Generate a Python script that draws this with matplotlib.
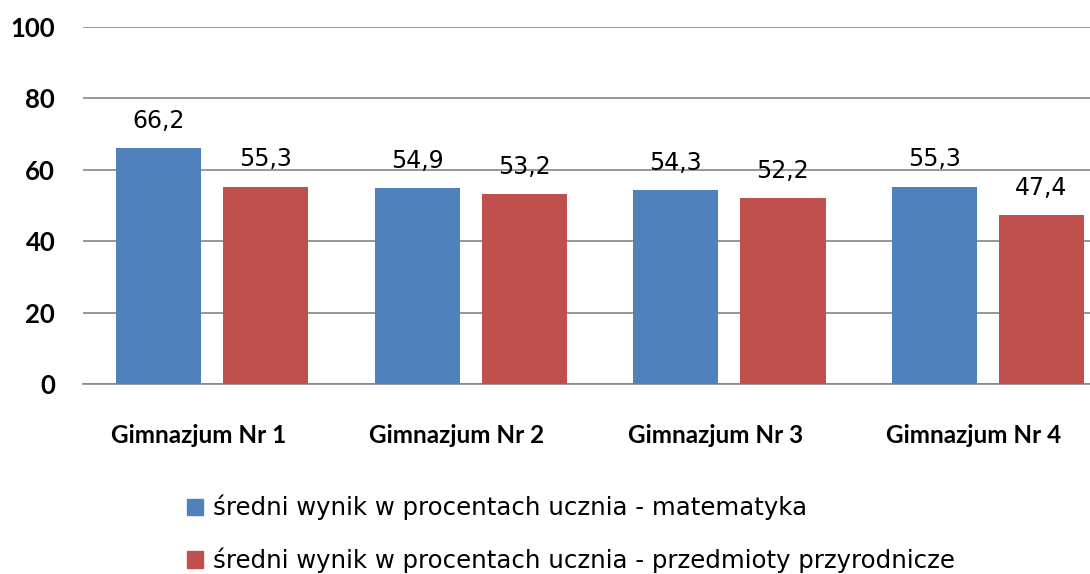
import matplotlib
matplotlib.use('Agg')
import matplotlib.pyplot as plt
import numpy as np
from matplotlib.patches import Patch

plt.rcParams['font.family'] = ['Lato', 'DejaVu Sans']

schools = ['Gimnazjum Nr 1', 'Gimnazjum Nr 2', 'Gimnazjum Nr 3', 'Gimnazjum Nr 4']
math_scores = [66.2, 54.9, 54.3, 55.3]
science_scores = [55.3, 53.2, 52.2, 47.4]
series_names = ['średni wynik w procentach ucznia - matematyka',
                'średni wynik w procentach ucznia - przedmioty przyrodnicze']
blue = '#4f81bd'
red = '#c0504d'

fig = plt.figure(figsize=(10.9, 5.74), dpi=100)
ax = fig.add_axes([83 / 1090, 1 - 384 / 574, 1 - 83 / 1090, (384 - 27) / 574])

x = np.arange(len(schools))
w = 0.33
off = 0.207
ax.bar(x - off, math_scores, w, color=blue, zorder=3)
ax.bar(x + off, science_scores, w, color=red, zorder=3)

for xs, vals in [(x - off, math_scores), (x + off, science_scores)]:
    for xi, v in zip(xs, vals):
        ax.annotate(f'{v:.1f}'.replace('.', ','), (xi, v), xytext=(0, 14.5),
                    textcoords='offset points', ha='center', va='baseline',
                    fontsize=17, family='DejaVu Sans')

ax.set_ylim(0, 100)
ax.set_xlim(-0.5, 3.395)
ax.set_yticks([0, 20, 40, 60, 80, 100])
ax.set_yticklabels(['0', '20', '40', '60', '80', '100'], fontsize=18.5, fontweight='bold')
# category labels sit a little left of the group centre in the original
ax.set_xticks(x - 0.054)
ax.set_xticklabels(schools, fontsize=17.5, fontweight='bold')
ax.tick_params(axis='y', length=0, pad=20)
ax.tick_params(axis='x', length=0, pad=29)
ax.grid(axis='y', color='#868686', linewidth=1.2, zorder=0)
for s in ['top', 'right', 'left']:
    ax.spines[s].set_visible(False)
ax.spines['bottom'].set_color('#868686')
ax.spines['bottom'].set_linewidth(1.2)

handles = [Patch(color=blue), Patch(color=red)]
fig.legend(handles, series_names, loc='upper left', bbox_to_anchor=(187 / 1090, 1 - 495 / 574),
           frameon=False, prop={'family': 'DejaVu Sans', 'size': 17.6},
           handlelength=0.66, handleheight=0.66, borderpad=0, borderaxespad=0,
           handletextpad=0.42, labelspacing=1.1)

fig.savefig('out.png', dpi=100)
